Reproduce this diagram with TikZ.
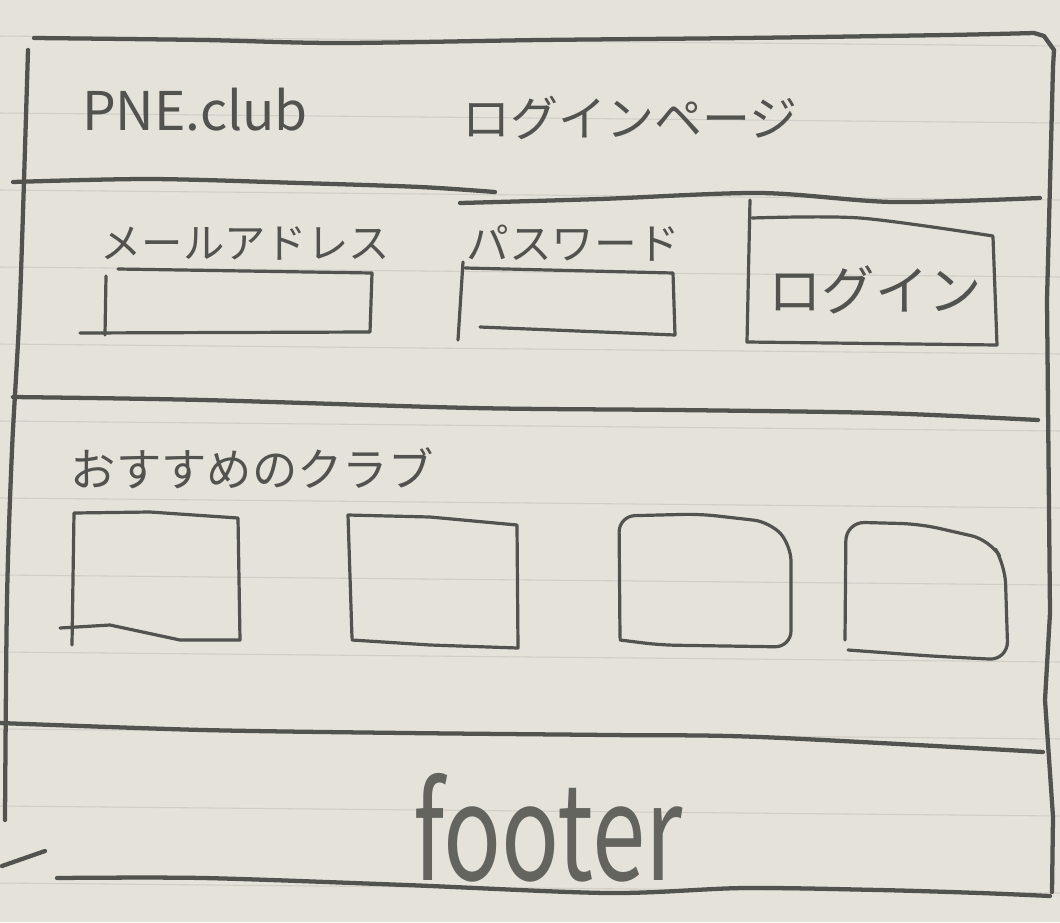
\documentclass[tikz,border=0pt]{standalone}
\usepackage{fontspec}
\usepackage{graphicx}
\newfontfamily\jpfont{Noto Sans CJK JP}
\definecolor{paper}{RGB}{228,226,217}
\definecolor{ink}{RGB}{82,82,78}
\definecolor{softink}{RGB}{100,100,95}
\definecolor{ruleline}{RGB}{208,206,198}
\tikzset{every picture/.style={line width=0.75pt}}
\tikzset{
	pen/.style={draw=ink, line width=3.2pt, line cap=round, line join=round},
	thinpen/.style={draw=ink, line width=2.4pt, line cap=round, line join=round},
	hand/.style={text=ink, inner sep=0pt, font=\jpfont\fontsize{#1}{#1}\selectfont}}

\begin{document}
\begin{tikzpicture}[x=0.75pt,y=0.75pt,yscale=-1,xscale=1]
	%Paper
	\fill[paper] (0,0) rectangle (1060,922);
	\useasboundingbox (0,0) rectangle (1060,922);
	%Ruled lines of the notebook
	\foreach \ry in {36,113,190,267,344,421,498,575,652,729,806,883}
		\draw[ruleline, line width=0.8pt] (0,\ry) -- (1060,\ry+10);

	%Outer frame: top and right side
	\draw[pen] plot[smooth, tension=0.5] coordinates {(34,38) (203,40) (338,43) (541,40) (744,38) (947,35) (1034,33)}
		-- (1044,36) -- (1054,50) -- (1053,67) -- (1047,300) -- (1050,613) -- (1045,700) -- (1053,817) -- (1052,892);
	%Outer frame: left side
	\draw[pen] plot[smooth, tension=0.5] coordinates {(28,50) (20,300) (12,450) (7,600) (5,820)};
	%Outer frame: footer bottom
	\draw[pen] plot[smooth, tension=0.5] coordinates {(57,878) (203,878) (406,885) (609,893) (744,888) (879,890) (980,893) (1050,896)};
	\draw[pen] (2,866) -- (45,851);

	%Header divider
	\draw[pen] plot[smooth, tension=0.5] coordinates {(13,182) (150,179) (300,183) (420,187) (495,192)};
	\draw[pen] plot[smooth, tension=0.5] coordinates {(460,203) (600,199) (760,193) (893,202) (1040,198)};
	%Form divider
	\draw[pen] plot[smooth, tension=0.5] coordinates {(13,397) (203,400) (473,408) (676,410) (879,413) (1038,420)};
	%Footer divider
	\draw[pen] plot[smooth, tension=0.5] coordinates {(0,723) (203,730) (406,733) (609,735) (760,737) (1043,752)};

	%Mail address box
	\draw[thinpen] (118,269) -- (372,273) -- (370,332) -- (80,333);
	\draw[thinpen] (106,276) -- (105,335);
	%Password box
	\draw[thinpen] (465,268) -- (673,273) -- (675,335) -- (480,327);
	\draw[thinpen] (463,262) -- (458,340);
	%Login button
	\draw[thinpen] (750,200) -- (747,342) -- (997,345) -- (993,237);
	\draw[thinpen] plot[smooth, tension=0.5] coordinates {(752,218) (860,218) (993,236)};

	%Club cards
	\draw[thinpen] (72,645) -- (74,513) -- (150,512) -- (238,518) -- (240,640) -- (180,640) -- (110,625) -- (60,628);
	\draw[thinpen] (352,638) -- (348,515) -- (430,517) -- (517,525) -- (518,648) -- (430,645) -- (352,640);
	\draw[thinpen, rounded corners=12] (620,638) -- (619,516) -- (700,514) -- (770,522) -- (791,545) -- (791,647) -- (660,645) -- (620,640);
	\draw[thinpen, rounded corners=14] (845,640) -- (846,522) -- (920,524) -- (990,540) -- (1005,565) -- (1008,660) -- (930,656) -- (848,650);

	% Text Node
	\node[hand=40] (site) at (195,110) {PNE.club};
	% Text Node
	\node[hand=36] (pagetitle) at (630,118) {ログインページ};
	% Text Node
	\node[hand=31] (maillabel) at (245,243) {メールアドレス};
	% Text Node
	\node[hand=32] (passlabel) at (573,243) {パスワード};
	% Text Node
	\node[hand=40] (loginbtn) at (875,290) {ログイン};
	% Text Node
	\node[hand=34] (clublabel) at (252,468) {おすすめのクラブ};
	% Text Node
	\node[hand=72, text=softink] (footer) at (548,828) {\scalebox{1}[1.38]{footer}};
\end{tikzpicture}
\end{document}
